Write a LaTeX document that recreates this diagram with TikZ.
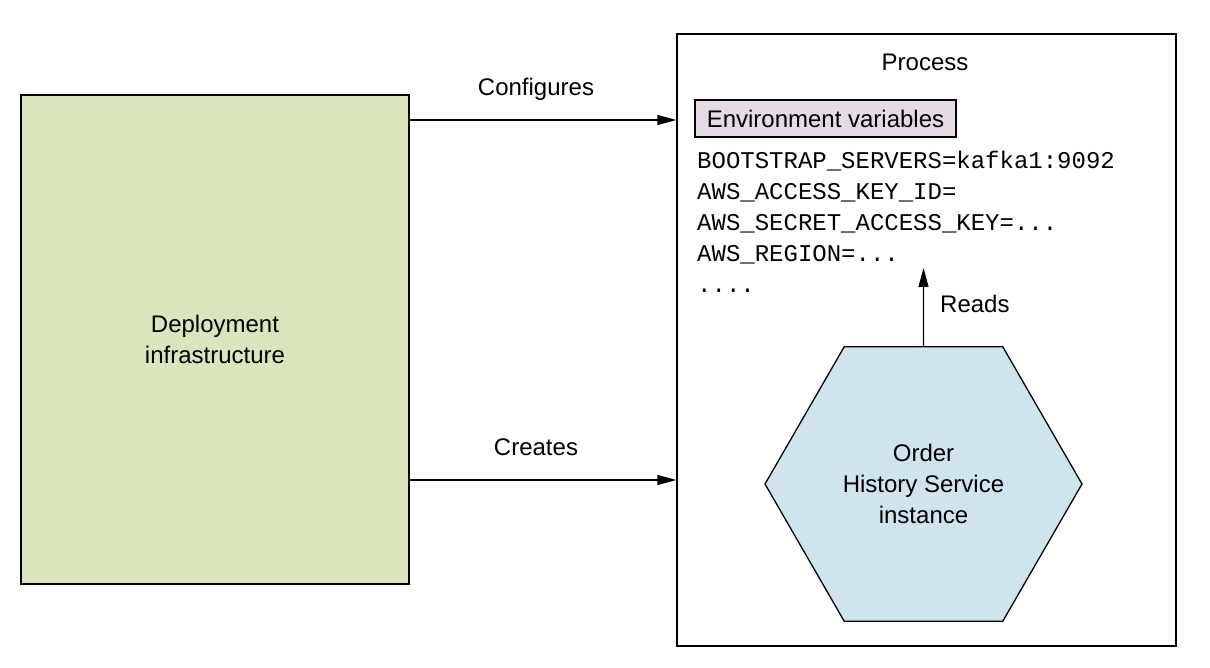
\documentclass[tikz,border=0pt]{standalone}
\usepackage{fontspec}
\setmainfont{Liberation Sans}
\setmonofont{Liberation Mono}
\usetikzlibrary{arrows.meta,shapes.geometric}
\definecolor{deployfill}{RGB}{218,229,190}
\definecolor{envfill}{RGB}{228,219,229}
\definecolor{servicefill}{RGB}{207,228,237}
\begin{document}
\begin{tikzpicture}[x=1pt,y=-1pt,
	every node/.style={font=\fontsize{24}{31}\selectfont},
	box/.style={draw,line width=1.3pt,inner sep=0pt},
	conn/.style={line width=1.2pt,-{Triangle[length=19pt,width=10pt]}},
	envline/.style={anchor=base west,inner sep=0pt,font=\fontsize{24}{31}\selectfont\ttfamily}]
	\useasboundingbox (0,0) rectangle (1210,668);
	%boxes
	\node[box,fill=deployfill,minimum width=388pt,minimum height=489pt,align=center] (deploy) at (215,339.5) {Deployment\\infrastructure};
	\node[box,minimum width=499pt,minimum height=612pt] (process) at (926.5,340) {};
	\node (proclabel) at (925,62) {Process};
	\node[box,fill=envfill,minimum width=261pt,minimum height=37pt] (envbox) at (825.5,118.5) {Environment variables};
	%variables
	\node[envline] (env1) at (697,169) {BOOTSTRAP\_SERVERS=kafka1:9092};
	\node[envline] (env2) at (697,200) {AWS\_ACCESS\_KEY\_ID=};
	\node[envline] (env3) at (697,231) {AWS\_SECRET\_ACCESS\_KEY=...};
	\node[envline] (env4) at (697,262) {AWS\_REGION=...};
	\node[envline] (env5) at (697,293) {....};
	%service
	\node[regular polygon,regular polygon sides=6,minimum size=317pt,box,fill=servicefill,align=center] (service) at (923.5,484) {Order\\History Service\\instance};
	%arrows
	\coordinate (conf) at (0,120);
	\coordinate (crea) at (0,480);
	\coordinate (readtip) at (923.5,268);
	\draw[conn] (conf -| deploy.east) -- (conf -| process.west);
	\draw[conn] (crea -| deploy.east) -- (crea -| process.west);
	\draw[conn] (service.north) -- (readtip);
	\node (conflabel) at (536,89) {Configures};
	\node (crealabel) at (536,447) {Creates};
	\node[anchor=west,inner sep=0pt] (readslabel) at (940,304) {Reads};
\end{tikzpicture}
\end{document}
